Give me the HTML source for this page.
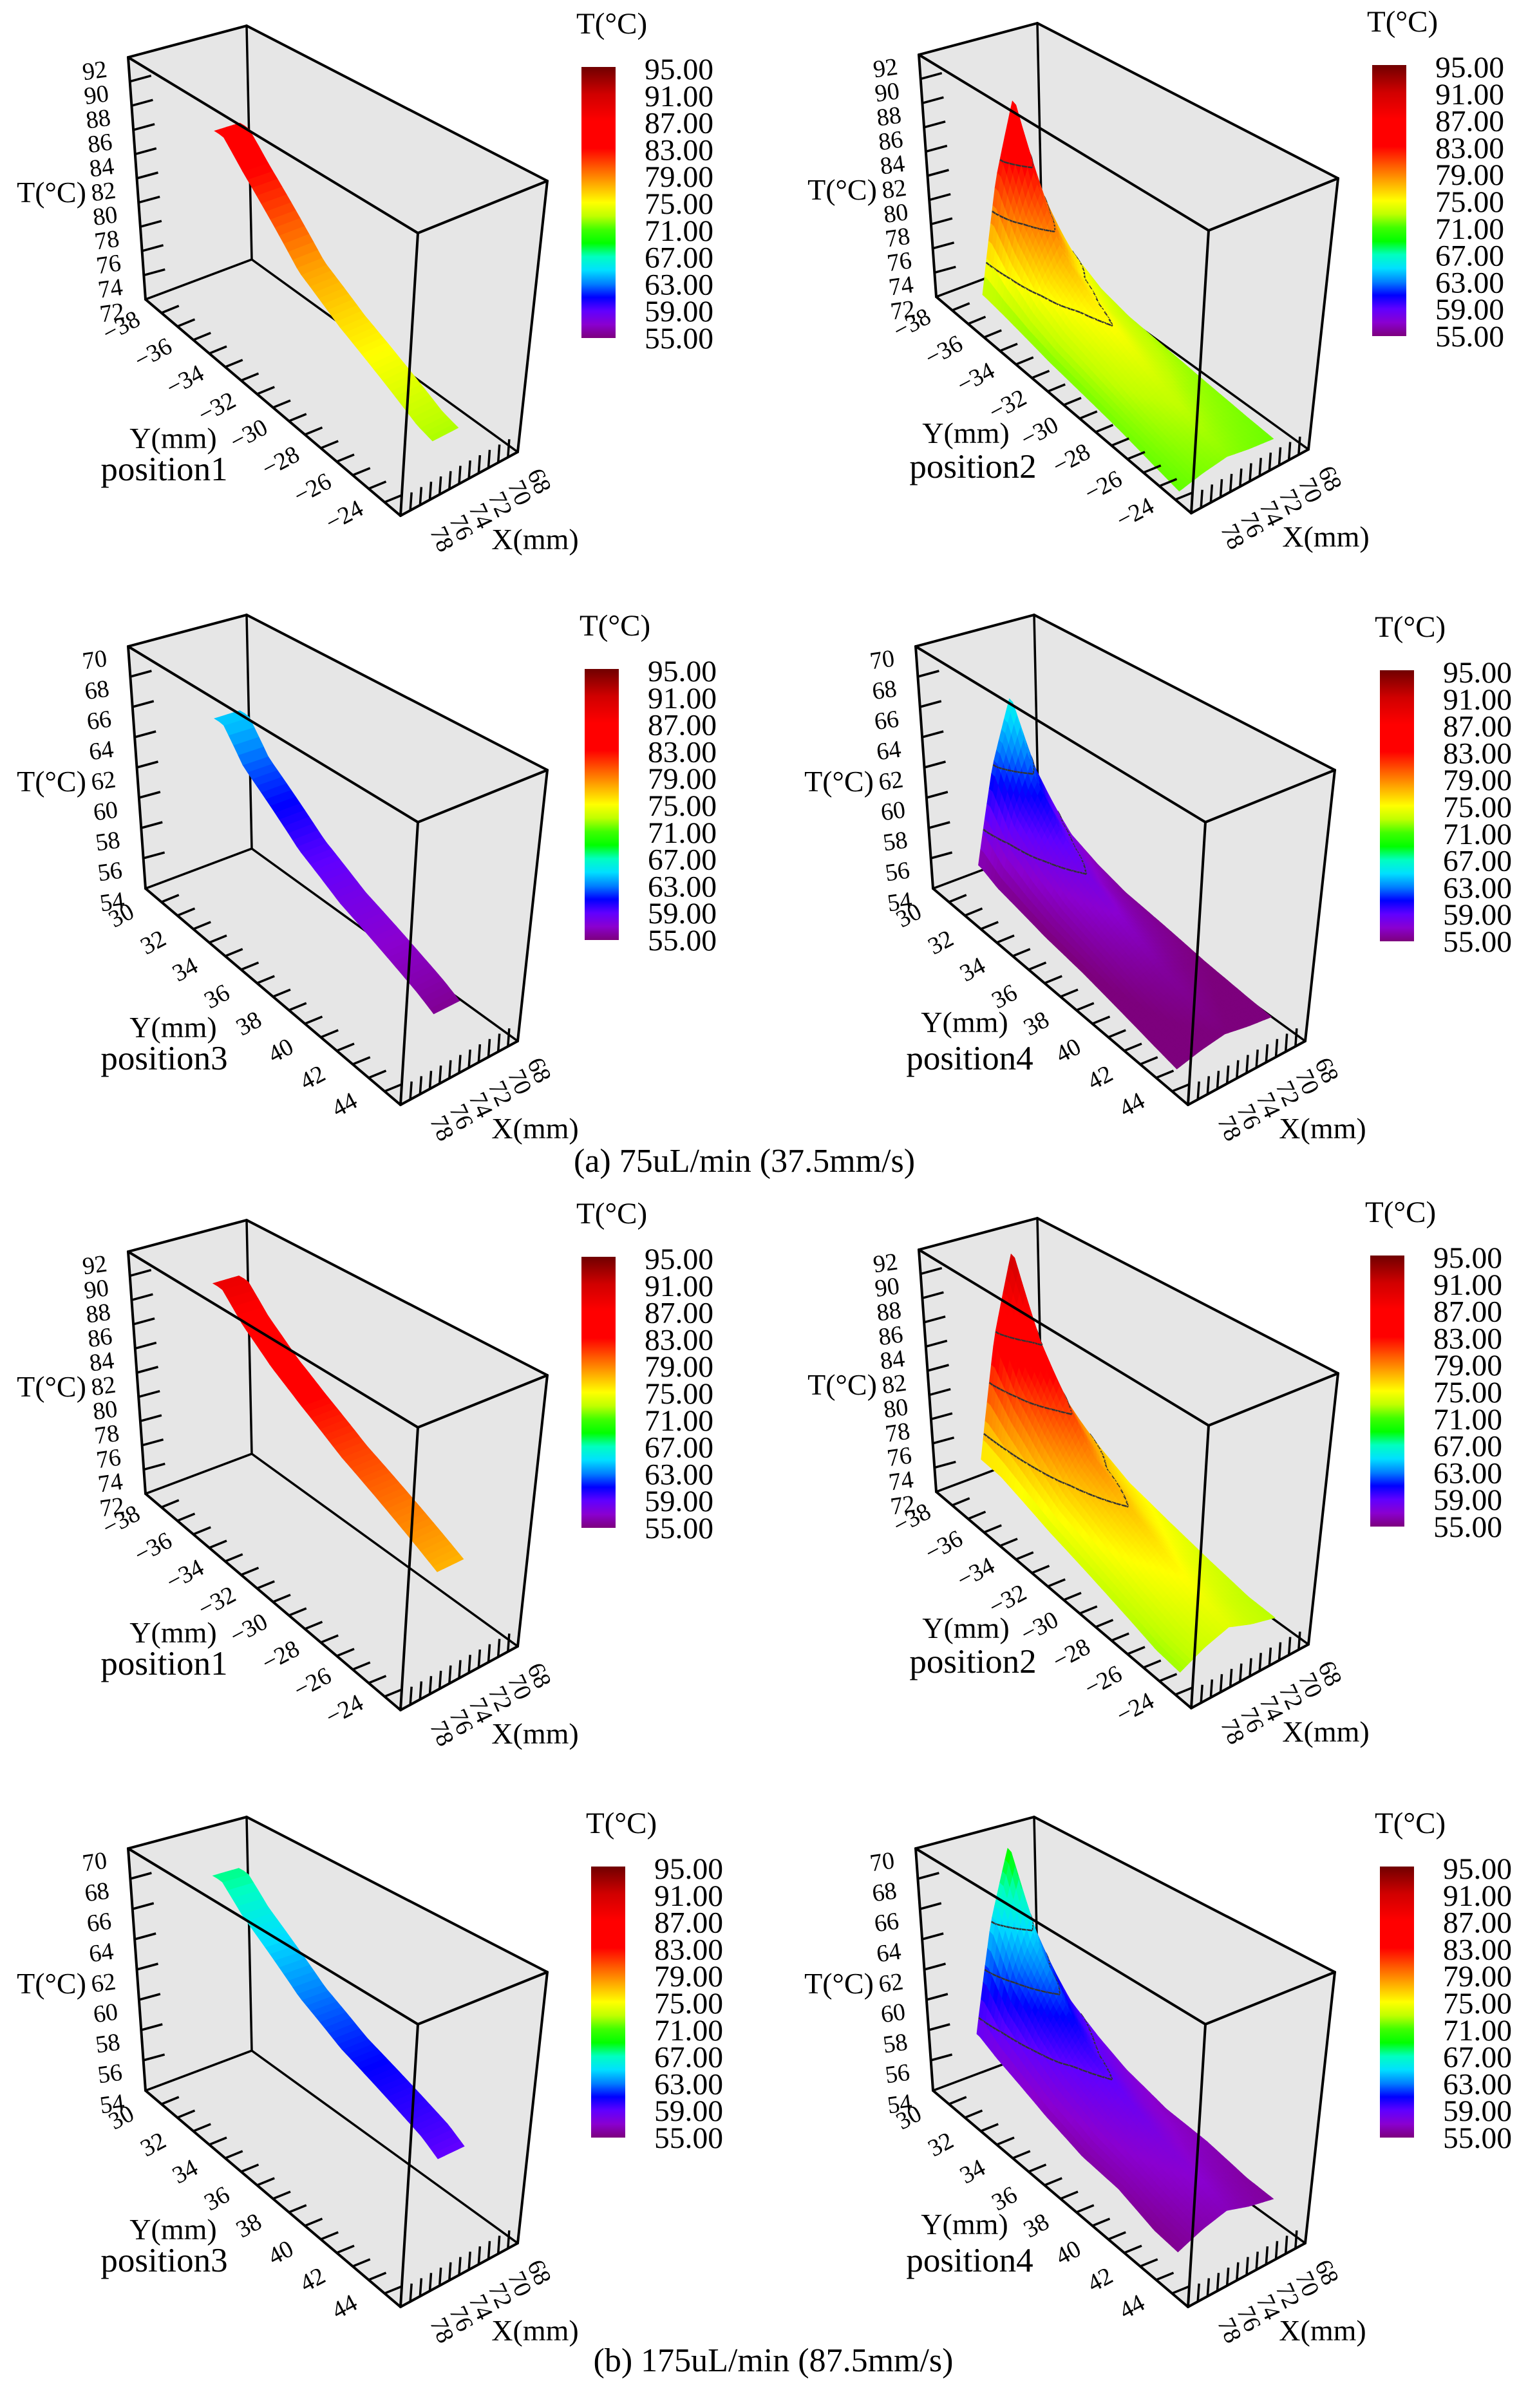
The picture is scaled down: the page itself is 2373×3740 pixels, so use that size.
<!DOCTYPE html>
<html><head><meta charset="utf-8">
<style>
html,body{margin:0;padding:0;background:#fff;}
svg{display:block;font-family:"Liberation Serif",serif;}
</style></head>
<body>
<svg id="fig" xmlns="http://www.w3.org/2000/svg" width="2373" height="3740" viewBox="0 0 2373 3740">
<rect x="0" y="0" width="2373" height="3740" fill="#ffffff"/>
<defs>
<linearGradient id="cbar" x1="0" y1="0" x2="0" y2="1">
<stop offset="0" stop-color="#700000"/>
<stop offset="0.1" stop-color="#d00000"/>
<stop offset="0.2" stop-color="#ff0000"/>
<stop offset="0.3" stop-color="#ff0000"/>
<stop offset="0.35" stop-color="#ff4000"/>
<stop offset="0.4" stop-color="#ff8000"/>
<stop offset="0.45" stop-color="#ffc000"/>
<stop offset="0.5" stop-color="#ffff00"/>
<stop offset="0.55" stop-color="#c0ff00"/>
<stop offset="0.6" stop-color="#40ff00"/>
<stop offset="0.65" stop-color="#00ff00"/>
<stop offset="0.7" stop-color="#00ffc0"/>
<stop offset="0.75" stop-color="#00e0ff"/>
<stop offset="0.8" stop-color="#0080ff"/>
<stop offset="0.85" stop-color="#0000ff"/>
<stop offset="0.9" stop-color="#6000ff"/>
<stop offset="0.95" stop-color="#8a00d0"/>
<stop offset="1" stop-color="#7d007d"/>
</linearGradient>
</defs>
<text x="1156" y="1820" font-size="52" text-anchor="middle">(a) 75uL/min (37.5mm/s)</text>
<text x="1201" y="3683" font-size="52" text-anchor="middle">(b) 175uL/min (87.5mm/s)</text>
</svg>
<script>
// ---- data ----
const vKnots = [0.08, 0.15, 0.25, 0.35, 0.5, 0.65, 0.8, 0.9];
const p1Ridge = [85, 83, 80.5, 78, 76, 74.5, 73, 72.5];
const p2Ridge = [87.5, 82, 77.6, 75.8, 74.5, 73.3, 72.6, 72.2];
const p2Base  = [72.5, 72.4, 72.2, 72, 71.9, 71.8, 71.6, 71.5];
const p3Ridge = [64.5, 62.5, 61, 59.5, 58, 57, 56, 55.2];
const p4Ridge = [66, 62, 59.5, 58, 56.8, 55.8, 55.3, 55];
const p4Base  = [55.8, 55.4, 55.2, 55, 54.9, 54.7, 54.5, 54.4];
const p5Ridge = [88.5, 86.5, 84.5, 83, 81, 79.5, 78, 77];
const p6Ridge = [91, 86, 82, 79, 77, 75.5, 74.5, 74];
const p6Base  = [75, 75, 74.5, 74, 73.5, 73, 72.5, 72.5];
const p7Ridge = [67.5, 66, 64.5, 63, 61.5, 60.5, 59.5, 58.5];
const p8Ridge = [69.5, 65, 62, 60, 58.5, 57.5, 57, 56.5];
const p8Base  = [58, 57.5, 57, 56.5, 56, 56, 55.5, 55.5];
const crossS = [0, 0.25, 0.5, 0.75, 1];
const crossShape = [0, 0.6, 1, 0.55, 0.25];
const tLabelsHigh = [92, 90, 88, 86, 84, 82, 80, 78, 76, 74, 72];
const tLabelsLow = [70, 68, 66, 64, 62, 60, 58, 56, 54];
const yLabelsNeg = ["\u221238", "\u221236", "\u221234", "\u221232", "\u221230", "\u221228", "\u221226", "\u221224"];
const yLabelsPos = ["30", "32", "34", "36", "38", "40", "42", "44"];
const xLabels = ["78", "76", "74", "72", "70", "68"];
const cbarLabels = ["95.00", "91.00", "87.00", "83.00", "79.00", "75.00", "71.00", "67.00", "63.00", "59.00", "55.00"];
const levels2 = [75, 79, 83];
const levels4 = [58, 62];
const levels6 = [77, 81, 85];
const levels8 = [59, 62, 65];

// ---- colormap ----
const cmT = [55, 57, 59, 61, 63, 65, 67, 69, 71, 73, 75, 77, 79, 81, 83, 87, 91, 95];
const cmC = ["#7d007d", "#8a00d0", "#6000ff", "#0000ff", "#0080ff", "#00e0ff", "#00ffc0", "#00ff00", "#40ff00", "#c0ff00", "#ffff00", "#ffc000", "#ff8000", "#ff4000", "#ff0000", "#ff0000", "#d00000", "#700000"];
function hex(c){return [parseInt(c.substr(1,2),16),parseInt(c.substr(3,2),16),parseInt(c.substr(5,2),16)];}
function cmap(t){
  if(t<=cmT[0]) return cmC[0];
  if(t>=cmT[cmT.length-1]) return cmC[cmC.length-1];
  for(let i=0;i<cmT.length-1;i++){
    if(t>=cmT[i]&&t<=cmT[i+1]){
      const f=(t-cmT[i])/(cmT[i+1]-cmT[i]);const a=hex(cmC[i]),b=hex(cmC[i+1]);
      return 'rgb('+Math.round(a[0]+(b[0]-a[0])*f)+','+Math.round(a[1]+(b[1]-a[1])*f)+','+Math.round(a[2]+(b[2]-a[2])*f)+')';
    }
  }
}
function interp(xs,ys,x){
  if(x<=xs[0]) return ys[0];
  if(x>=xs[xs.length-1]) return ys[ys.length-1];
  for(let i=0;i<xs.length-1;i++){ if(x>=xs[i]&&x<=xs[i+1]){const f=(x-xs[i])/(xs[i+1]-xs[i]);return ys[i]+(ys[i+1]-ys[i])*f;} }
}

// ---- geometry (panel-1 frame) ----
const K = {A:[199,89],E:[226,465],D:[649,362],F:[622,801],B:[383,40],H:[391,403],C:[850,281],G:[804,702]};
function lerp(p,q,f){return [p[0]+(q[0]-p[0])*f,p[1]+(q[1]-p[1])*f];}
function proj(o,u,v,w){
  const fb=lerp(K.E,K.F,v),ft=lerp(K.A,K.D,v),bb=lerp(K.H,K.G,v),bt=lerp(K.B,K.C,v);
  const b=lerp(fb,bb,u),t=lerp(ft,bt,u),p=lerp(b,t,w);
  return [p[0]+o[0],p[1]+o[1]];
}
const svg=document.getElementById('fig');
const NS='http://www.w3.org/2000/svg';
function mk(tag,parent){const e=document.createElementNS(NS,tag);parent.appendChild(e);return e;}
function pt(p){return p[0].toFixed(1)+','+p[1].toFixed(1);}

const panels = [
 {name:'position1',o:[0,0],cb:[0,0],low:false,kind:'strip',ridge:p1Ridge,base:null,levels:[],lab:[255,728],ylab:[269,680]},
 {name:'position2',o:[1228,-4],cb:[1228,-3],low:false,kind:'sheet',ridge:p2Ridge,base:p2Base,levels:levels2,lab:[283,728],ylab:[272,676]},
 {name:'position3',o:[0,915],cb:[5,935],low:true,kind:'strip',ridge:p3Ridge,base:null,levels:[],lab:[255,728],ylab:[269,680]},
 {name:'position4',o:[1223,915],cb:[1240,937],low:true,kind:'sheet',ridge:p4Ridge,base:p4Base,levels:levels4,lab:[283,728],ylab:[275,672]},
 {name:'position1',o:[0,1855],cb:[0,1848],low:false,kind:'strip',ridge:p5Ridge,base:null,levels:[],lab:[255,728],ylab:[269,680]},
 {name:'position2',o:[1228,1852],cb:[1225,1846],low:false,kind:'sheet',ridge:p6Ridge,base:p6Base,levels:levels6,lab:[283,728],ylab:[272,676]},
 {name:'position3',o:[0,2782],cb:[15,2795],low:true,kind:'strip',ridge:p7Ridge,base:null,levels:[],lab:[255,728],ylab:[269,680]},
 {name:'position4',o:[1223,2782],cb:[1240,2795],low:true,kind:'sheet',ridge:p8Ridge,base:p8Base,levels:levels8,lab:[283,728],ylab:[275,672]}
];

function drawPanel(P,idx){
  const g=mk('g',svg);
  
  
  const o=P.o;
  const c=k=>[K[k][0]+o[0],K[k][1]+o[1]];
  const bg=mk('polygon',g);
  
  
  bg.setAttribute('points',['A','B','C','G','F','E'].map(k=>pt(c(k))).join(' '));
  bg.setAttribute('fill','#e6e6e6');
  const backEdges=[['B','H'],['H','E'],['H','G']];
  backEdges.forEach(e=>{
    const l=mk('line',g);
    
    
    const p=c(e[0]),q=c(e[1]);
    l.setAttribute('x1',p[0]);l.setAttribute('y1',p[1]);l.setAttribute('x2',q[0]);l.setAttribute('y2',q[1]);
    l.setAttribute('stroke','#000');l.setAttribute('stroke-width','3.5');
  });
  const tMax=P.low?70:92;
  const lo=P.low?54:72;
  const wOf=t=>(t-lo)/(tMax-lo);
  let nu,nv,u0f,u1f,v0,v1,Tf;
  if(P.kind==='strip'){
    nu=4;nv=50;v0=0.05;v1=0.86;
    u0f=v=>0.58;u1f=v=>0.8;
    Tf=(s,v)=>interp(vKnots,P.ridge,v);
  } else {
    nu=26;nv=70;v0=0.07;v1=0.9;
    u0f=v=>0.27+(0.12-0.27)*(v-0.07)/0.83;u1f=v=>0.93;
    Tf=(s,v)=>{const b=interp(vKnots,P.base,v),r=interp(vKnots,P.ridge,v);return b+(r-b)*interp(crossS,crossShape,s);};
  }
  const grid=[];
  for(let i=0;i<=nu;i++){grid.push([]);for(let j=0;j<=nv;j++){
    const v=v0+(v1-v0)*j/nv,s=i/nu,u=u0f(v)+(u1f(v)-u0f(v))*s,T=Tf(s,v);
    grid[i].push({p:proj(o,u,v,wOf(T)),T:T});
  }}
  const sg=mk('g',g);
  
  
  for(let i=nu-1;i>=0;i--){for(let j=nv-1;j>=0;j--){
    const a=grid[i][j],b=grid[i+1][j],d=grid[i+1][j+1],e=grid[i][j+1];
    const Tm=(a.T+b.T+d.T+e.T)/4;
    const q=mk('polygon',sg);
    
    
    q.setAttribute('points',[a,b,d,e].map(x=>pt(x.p)).join(' '));
    const col=cmap(Tm);
    q.setAttribute('fill',col);q.setAttribute('stroke',col);q.setAttribute('stroke-width','1');
    P.levels.forEach(L=>{
      const cs=[a,b,d,e],pts=[];
      for(let k=0;k<4;k++){const m=cs[k],n=cs[(k+1)%4];
        if((m.T-L)*(n.T-L)<0){const f=(L-m.T)/(n.T-m.T);pts.push(lerp(m.p,n.p,f));}}
      if(pts.length>=2){
        const cl=mk('line',sg);
        
        
        cl.setAttribute('x1',pts[0][0]);cl.setAttribute('y1',pts[0][1]);cl.setAttribute('x2',pts[1][0]);cl.setAttribute('y2',pts[1][1]);
        cl.setAttribute('stroke','#333');cl.setAttribute('stroke-width','2.5');
      }
    });
  }}
  const frontEdges=[['A','B'],['B','C'],['C','D'],['D','A'],['A','E'],['E','F'],['F','G'],['D','F'],['C','G']];
  frontEdges.forEach(e=>{
    const l=mk('line',g);
    
    
    const p=c(e[0]),q=c(e[1]);
    l.setAttribute('x1',p[0]);l.setAttribute('y1',p[1]);l.setAttribute('x2',q[0]);l.setAttribute('y2',q[1]);
    l.setAttribute('stroke','#000');l.setAttribute('stroke-width','4');l.setAttribute('stroke-linecap','round');
  });
  const tl=P.low?tLabelsLow:tLabelsHigh;
  const nT=tl.length-1;
  for(let k=0;k<=nT;k++){
    const f=k/nT,p=lerp(c('A'),c('E'),f);
    if(k>0&&k<nT){
      const t=mk('line',g);
      
      
      t.setAttribute('x1',p[0]);t.setAttribute('y1',p[1]);t.setAttribute('x2',p[0]+33);t.setAttribute('y2',p[1]-9);
      t.setAttribute('stroke','#000');t.setAttribute('stroke-width','3.5');
    }
    const x=p[0]-52,y=p[1]+20+13;
    const tx=mk('text',g);
    
    
    tx.setAttribute('x',x);tx.setAttribute('y',y);tx.setAttribute('font-size','38');tx.setAttribute('text-anchor','middle');
    tx.setAttribute('transform','rotate(-8 '+x+' '+(y-13)+')');
    tx.textContent=tl[k];
  }
  for(let k=1;k<16;k++){
    const p=lerp(c('E'),c('F'),k/16);
    const t=mk('line',g);
    
    
    t.setAttribute('x1',p[0]);t.setAttribute('y1',p[1]);t.setAttribute('x2',p[0]+27);t.setAttribute('y2',p[1]-11);
    t.setAttribute('stroke','#000');t.setAttribute('stroke-width','3.5');
  }
  const yl=P.low?yLabelsPos:yLabelsNeg;
  yl.forEach((lab,k)=>{
    const p=lerp(c('E'),c('F'),(2*k)/16);
    const x=p[0]-38,y=p[1]+41;
    const tx=mk('text',g);
    
    
    tx.setAttribute('x',x);tx.setAttribute('y',y+13);tx.setAttribute('font-size','38');tx.setAttribute('text-anchor','middle');
    tx.setAttribute('transform','rotate(-28 '+x+' '+y+')');
    tx.textContent=lab;
  });
  for(let k=1;k<12;k++){
    const p=lerp(c('F'),c('G'),k/12);
    const t=mk('line',g);
    
    
    t.setAttribute('x1',p[0]);t.setAttribute('y1',p[1]);t.setAttribute('x2',p[0]+2);t.setAttribute('y2',p[1]-28);
    t.setAttribute('stroke','#000');t.setAttribute('stroke-width','3.5');
  }
  xLabels.forEach((lab,k)=>{
    const p=lerp([687+o[0],837+o[1]],[838+o[0],747+o[1]],k/(xLabels.length-1));
    const tx=mk('text',g);
    
    
    tx.setAttribute('x',p[0]);tx.setAttribute('y',p[1]+13);tx.setAttribute('font-size','38');tx.setAttribute('text-anchor','middle');
    tx.setAttribute('transform','rotate(65 '+p[0]+' '+p[1]+')');
    tx.textContent=lab;
  });
  const titles=[['t-axis-title','T(°C)',80,314,46],['y-axis-title','Y(mm)',P.ylab[0],P.ylab[1]+16,46],['x-axis-title','X(mm)',831,853,46],['position-label',P.name,P.lab[0],P.lab[1]+18,53]];
  titles.forEach(a=>{
    const tx=mk('text',g);
    
    
    tx.setAttribute('x',a[2]+o[0]);tx.setAttribute('y',a[3]+o[1]);tx.setAttribute('font-size',a[4]);tx.setAttribute('text-anchor','middle');
    tx.textContent=a[1];
  });
  const cb=P.cb;
  const cg=mk('g',g);
  
  
  const r=mk('rect',cg);
  
  
  r.setAttribute('x',903+cb[0]);r.setAttribute('y',104+cb[1]);r.setAttribute('width',53);r.setAttribute('height',421);r.setAttribute('fill','url(#cbar)');
  const ct=mk('text',cg);
  
  
  ct.setAttribute('x',895+cb[0]);ct.setAttribute('y',52+cb[1]);ct.setAttribute('font-size','47');
  ct.textContent='T(°C)';
  cbarLabels.forEach((lab,k)=>{
    const tx=mk('text',cg);
    
    
    tx.setAttribute('x',1001+cb[0]);tx.setAttribute('y',107+k*41.8+16+cb[1]);tx.setAttribute('font-size','47');
    tx.setAttribute('textLength','107');tx.setAttribute('lengthAdjust','spacingAndGlyphs');
    tx.textContent=lab;
  });
}
panels.forEach((P,i)=>drawPanel(P,i));
</script>
</body></html>
